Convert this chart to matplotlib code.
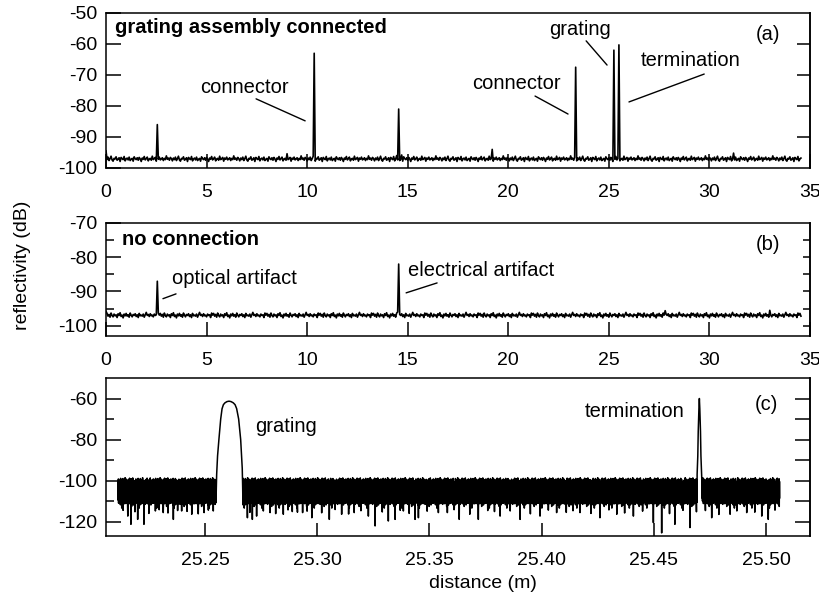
import numpy as np
import matplotlib
matplotlib.use('Agg')
import matplotlib.pyplot as plt

plt.rcParams['font.family'] = ['Liberation Sans', 'DejaVu Sans']
plt.rcParams['font.size'] = 14
plt.rcParams['axes.unicode_minus'] = False
plt.rcParams['axes.linewidth'] = 1.1

#--------------------------------------------------------------------------------
# Du lieu doc tu hinh
#--------------------------------------------------------------------------------
# (a) va (b): nen nhieu quanh -97 dB (mau go tay, lap lai doc theo truc)
nen_a = [-96.8, -97.3, -96.5, -97.6, -97.0, -96.2, -97.4, -97.8, -96.9, -97.1,
         -96.4, -97.5, -97.2, -96.7, -97.9, -96.6, -97.0, -97.3, -96.3, -97.7,
         -97.1, -96.8, -97.4, -96.5, -97.6, -97.2, -96.9, -97.8, -96.4, -97.0,
         -97.3, -96.7, -97.5, -96.6, -97.1, -97.9, -96.8, -97.2, -96.3, -97.4,
         -97.0, -96.5, -97.7, -97.1, -96.9, -97.5, -96.2, -97.3, -97.0, -96.6,
         -97.8, -96.8, -97.2, -96.5, -97.4, -97.1, -96.7, -97.6, -96.9, -97.3,
         -96.1, -97.2, -96.8, -97.5, -96.6, -97.0, -97.7]
nen_b = [-96.9, -96.4, -97.2, -96.7, -97.5, -96.3, -97.0, -97.4, -96.6, -97.1,
         -96.8, -97.6, -96.5, -97.0, -96.2, -97.3, -96.9, -97.7, -96.6, -97.1,
         -96.4, -97.2, -96.8, -97.5, -96.3, -96.9, -97.4, -96.7, -97.0, -96.5,
         -97.3, -96.8, -97.6, -96.4, -97.1, -96.9, -97.2, -96.6, -97.5, -96.8,
         -96.1, -97.0, -96.7, -97.3, -96.5, -97.1, -96.9, -97.4, -96.6, -97.0,
         -96.8, -97.6, -96.3]
dinh_a_x = [0.0, 2.57, 9.0, 10.34, 14.45, 14.55, 14.7, 19.2, 23.37, 25.26, 25.5, 31.2]
dinh_a_y = [-94.5, -86.0, -95.4, -63.0, -96.0, -81.0, -95.8, -94.0, -67.5, -62.0, -60.3, -95.2]
dinh_b_x = [0.0, 2.57, 14.5, 14.55, 27.8, 33.0]
dinh_b_y = [-95.8, -87.0, -96.0, -82.0, -95.6, -95.5]

# (c): dai nhieu day giua -99 va -112 dB
nen_c = [-100.5, -109.5, -99.2, -111.0, -101.8, -108.2, -99.8, -110.6, -102.4, -107.5,
         -100.1, -111.8, -98.9, -109.0, -101.2, -110.2, -99.5, -113.4, -100.8, -112.0,
         -101.5, -107.9, -99.0, -110.9, -100.3, -109.3, -102.0, -111.4, -99.7, -108.5,
         -100.9, -110.0, -98.6, -109.7, -101.4, -111.2, -100.0, -108.1, -99.3, -110.5,
         -102.2, -109.1, -99.9, -111.6, -100.6, -108.6, -101.0, -110.8, -99.4, -109.8,
         -100.2, -107.7, -98.8, -111.3, -101.6, -109.4, -99.6, -110.3, -100.7, -108.9,
         -99.1, -112.6, -100.4, -108.4, -101.9, -110.7, -98.7, -109.6, -100.9, -111.9,
         -99.8, -108.0, -101.3, -110.4, -100.1, -109.2, -99.5, -111.1]
hoang_c_x = [25.2156, 25.2170, 25.2200, 25.2228, 25.2279, 25.2314, 25.2359, 25.2396,
             25.2441, 25.2496, 25.2537, 25.2689, 25.2711, 25.2730, 25.2790, 25.2849,
             25.2889, 25.2935, 25.2976, 25.3054, 25.3109, 25.3165, 25.3228, 25.3258,
             25.3317, 25.3347, 25.3384, 25.3436, 25.3451, 25.3540, 25.3633, 25.3718,
             25.3815, 25.3904, 25.3993, 25.4067, 25.4171, 25.4260, 25.4335, 25.4409,
             25.4498, 25.4535, 25.4594, 25.4661, 25.4758, 25.4840, 25.4914, 25.4981,
             25.5010,
             25.2135, 25.2188, 25.2250, 25.2296, 25.2335, 25.2378, 25.2420, 25.2470,
             25.2515, 25.2700, 25.2760, 25.2815, 25.2870, 25.2912, 25.2955, 25.3020,
             25.3080, 25.3140, 25.3195, 25.3290, 25.3370, 25.3410, 25.3490, 25.3580,
             25.3610, 25.3680, 25.3760, 25.3790, 25.3860, 25.3950, 25.4030, 25.4110,
             25.4140, 25.4220, 25.4300, 25.4370, 25.4450, 25.4570, 25.4630, 25.4690,
             25.4730, 25.4790, 25.4870, 25.4950, 25.5040]
hoang_c_y = [-117.3, -121.3, -118.9, -121.3, -114.8, -115.6, -118.9, -114.8,
             -116.4, -115.6, -114.8, -118.1, -118.9, -117.3, -115.6, -116.4,
             -115.1, -115.6, -118.1, -118.9, -116.4, -115.6, -117.3, -122.1,
             -119.7, -118.9, -114.8, -118.9, -118.1, -115.6, -118.9, -118.9,
             -117.3, -118.9, -117.3, -115.6, -115.6, -118.1, -116.4, -117.3,
             -120.5, -125.5, -121.3, -122.9, -118.1, -116.4, -115.6, -117.3,
             -118.9,
             -114.5, -115.2, -116.0, -114.2, -115.8, -114.6, -115.0, -116.2,
             -114.4, -115.5, -114.8, -116.1, -114.3, -115.4, -114.9, -115.7,
             -114.1, -116.3, -114.7, -115.3, -114.5, -116.0, -114.9, -115.6,
             -114.2, -116.4, -114.6, -115.1, -114.8, -116.2, -114.4, -115.5,
             -114.7, -116.0, -114.3, -115.8, -114.9, -116.1, -114.5, -115.2,
             -114.6, -116.5, -114.8, -115.4, -114.4]
cach_tu_x = [25.2550, 25.2552, 25.2556, 25.2562, 25.2570, 25.2576, 25.2582, 25.2589,
             25.2598, 25.2607, 25.2616, 25.2626, 25.2634, 25.2641, 25.2650, 25.2659,
             25.2666, 25.2668]
cach_tu_y = [-106.0, -97.0, -88.0, -80.0, -70.0, -65.0, -63.0, -62.1,
             -61.5, -61.3, -61.5, -62.1, -63.0, -64.9, -70.0, -80.0,
             -94.0, -104.0]
dau_cuoi_x = [25.4693, 25.4696, 25.4698, 25.4701, 25.4703,
              25.4705, 25.4708, 25.4710, 25.4713]
dau_cuoi_y = [-97.0, -88.0, -76.0, -65.0, -60.0,
              -65.0, -76.0, -88.0, -98.0]


#--------------------------------------------------------------------------------
# Ghep du lieu
#--------------------------------------------------------------------------------
def TaoVet(x, nen, dinh_x, dinh_y):
    y = np.resize(np.array(nen), len(x))
    for px, py in zip(dinh_x, dinh_y):
        y[np.argmin(np.abs(x - px))] = py
    return y


x_ab = np.arange(0, 34.56, 0.05)
y_a = TaoVet(x_ab, nen_a, dinh_a_x, dinh_a_y)
y_b = TaoVet(x_ab, nen_b, dinh_b_x, dinh_b_y)

x_c = np.arange(25.2112, 25.5062, 0.0001)
y_c = TaoVet(x_c, nen_c, hoang_c_x, hoang_c_y)
giu = ~(((x_c > cach_tu_x[0]) & (x_c < cach_tu_x[-1])) |
        ((x_c > dau_cuoi_x[0]) & (x_c < dau_cuoi_x[-1])))
x_c = np.concatenate([x_c[giu], cach_tu_x, dau_cuoi_x])
y_c = np.concatenate([y_c[giu], cach_tu_y, dau_cuoi_y])
thu_tu = np.argsort(x_c)
x_c = x_c[thu_tu]
y_c = y_c[thu_tu]


def DuongChi(ax, p0, p1):
    ax.annotate('', xy=p1, xytext=p0,
                arrowprops=dict(arrowstyle='-', lw=1.0, color='k', shrinkA=0, shrinkB=0))


def TrucPhai(ax, ticks, dai):
    sec = ax.secondary_yaxis('right')
    sec.set_yticks(ticks)
    sec.tick_params(direction='in', length=dai, width=1.1, labelright=False)
    sec.spines['right'].set_linewidth(1.1)


#--------------------------------------------------------------------------------
# Ve bieu do
#--------------------------------------------------------------------------------
fig = plt.figure(figsize=(8.2, 5.98), dpi=100)

# (a)
ax_a = fig.add_axes([0.1293, 0.7191, 0.8585, 0.2592])
ax_a.plot(x_ab, y_a, color='k', lw=1.2)
ax_a.set_xlim(0, 35)
ax_a.set_ylim(-100, -50)
ax_a.set_xticks(np.arange(0, 36, 5))
ax_a.set_yticks(np.arange(-100, -49, 10))
ax_a.tick_params(axis='x', direction='in', length=10, width=1.1, pad=11.5)
ax_a.tick_params(axis='y', direction='in', length=11, width=1.1, pad=6)
TrucPhai(ax_a, [-90, -80, -70, -60], 9.5)
ax_a.text(0.45, -54.8, 'grating assembly connected', fontsize=14.5,
          fontweight='bold', ha='left', va='center')
ax_a.text(6.9, -73.9, 'connector', fontsize=14.5, ha='center', va='center')
DuongChi(ax_a, (7.46, -77.7), (9.9, -84.8))
ax_a.text(20.39, -72.6, 'connector', fontsize=14.5, ha='center', va='center')
DuongChi(ax_a, (21.33, -76.8), (22.97, -82.6))
ax_a.text(23.57, -55.2, 'grating', fontsize=14.5, ha='center', va='center')
DuongChi(ax_a, (23.87, -59.0), (24.91, -66.8))
ax_a.text(29.07, -65.2, 'termination', fontsize=14.5, ha='center', va='center')
DuongChi(ax_a, (29.74, -69.7), (26.0, -78.7))
ax_a.text(32.9, -56.8, '(a)', fontsize=14.5, ha='center', va='center')

# (b)
ax_b = fig.add_axes([0.1293, 0.4381, 0.8585, 0.1890])
ax_b.plot(x_ab, y_b, color='k', lw=1.2)
ax_b.set_xlim(0, 35)
ax_b.set_ylim(-103, -70)
ax_b.set_xticks(np.arange(0, 36, 5))
ax_b.set_yticks(np.arange(-100, -69, 10))
ax_b.set_yticks([-95, -85, -75], minor=True)
ax_b.tick_params(axis='x', direction='in', length=10, width=1.1, pad=11.5)
ax_b.tick_params(axis='y', which='major', direction='in', length=11, width=1.1, pad=6)
ax_b.tick_params(axis='y', which='minor', direction='in', length=5.5, width=1.1)
TrucPhai(ax_b, [-100, -95, -90, -85, -80, -75], 5)
ax_b.text(0.8, -74.7, 'no connection', fontsize=14.5, fontweight='bold',
          ha='left', va='center')
ax_b.text(3.28, -86.3, 'optical artifact', fontsize=14.5, ha='left', va='center')
DuongChi(ax_b, (2.83, -92.1), (3.48, -90.7))
ax_b.text(15.0, -84.0, 'electrical artifact', fontsize=14.5, ha='left', va='center')
DuongChi(ax_b, (14.92, -90.4), (16.46, -87.5))
ax_b.text(32.9, -76.4, '(b)', fontsize=14.5, ha='center', va='center')

# (c)
ax_c = fig.add_axes([0.1293, 0.1037, 0.8585, 0.2642])
ax_c.plot(x_c, y_c, color='k', lw=1.1)
ax_c.set_xlim(25.2059, 25.5196)
ax_c.set_ylim(-127, -50)
ax_c.set_xticks([25.25, 25.30, 25.35, 25.40, 25.45, 25.50])
ax_c.set_xticklabels(['25.25', '25.30', '25.35', '25.40', '25.45', '25.50'])
ax_c.set_yticks([-120, -100, -80, -60])
ax_c.set_yticks([-110, -90, -70], minor=True)
ax_c.tick_params(axis='x', direction='in', length=9.5, width=1.1, pad=11.5)
ax_c.tick_params(axis='y', which='major', direction='in', length=11, width=1.1, pad=6)
ax_c.tick_params(axis='y', which='minor', direction='in', length=5.5, width=1.1)
TrucPhai(ax_c, [-120, -110, -100, -90, -80, -70, -60], 11)
ax_c.text(25.2859, -73.6, 'grating', fontsize=14.5, ha='center', va='center')
ax_c.text(25.4414, -66.3, 'termination', fontsize=14.5, ha='center', va='center')
ax_c.text(25.5004, -63.0, '(c)', fontsize=14.5, ha='center', va='center')

fig.text(0.028, 0.557, 'reflectivity (dB)', rotation=90, fontsize=14,
         ha='center', va='center')
fig.text(0.589, 0.025, 'distance (m)', fontsize=14, ha='center', va='center')

fig.savefig('out.png', dpi=100)
